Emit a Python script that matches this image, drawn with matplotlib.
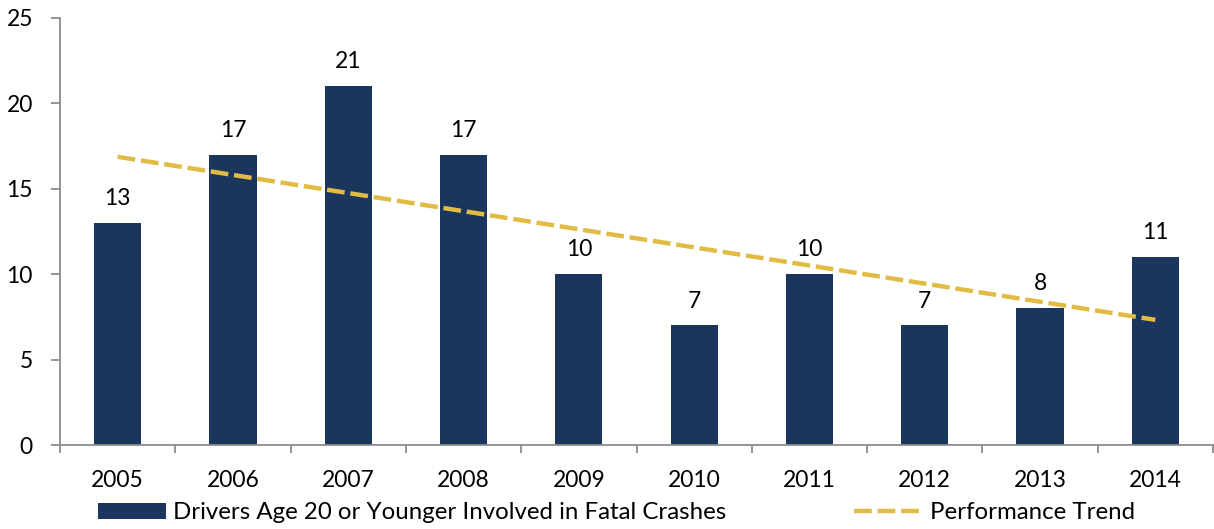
import matplotlib
matplotlib.use("Agg")
import matplotlib.pyplot as plt
import numpy as np
from matplotlib.lines import Line2D
from matplotlib.patches import Patch

plt.rcParams['font.family'] = ['Lato', 'DejaVu Sans']

years = ['2005', '2006', '2007', '2008', '2009', '2010', '2011', '2012', '2013', '2014']
drivers = [13, 17, 21, 17, 10, 7, 10, 7, 8, 11]

bar_color = '#1b365d'
trend_color = '#e0bc45'
axis_color = '#8c8c8c'

x = np.arange(len(years))

# linear trend through the yearly counts
slope, intercept = np.polyfit(x, drivers, 1)
trend = slope * x + intercept

fig = plt.figure(figsize=(12.14, 5.29), dpi=100)
ax = fig.add_axes([60 / 1214, 84 / 529, 1153 / 1214, (445 - 18) / 529])

ax.bar(x, drivers, width=0.41, color=bar_color, zorder=2)
ax.plot(x, trend, color=trend_color, lw=3.2, dashes=(4, 1.3), zorder=3)

for xi, v in zip(x, drivers):
    ax.annotate(str(v), (xi, v), xytext=(0, 10), textcoords='offset points',
                ha='center', va='bottom', fontsize=16.5, color='black')

ax.set_xlim(-0.5, len(years) - 0.5)
ax.set_ylim(0, 25)
ax.set_yticks(range(0, 26, 5))
ax.set_xticks(x)
ax.set_xticklabels(years)
ax.set_xticks(np.arange(-0.5, len(years), 1), minor=True)

for side in ['top', 'right']:
    ax.spines[side].set_visible(False)
for side in ['left', 'bottom']:
    ax.spines[side].set_color(axis_color)
    ax.spines[side].set_linewidth(1.3)

ax.tick_params(axis='y', length=6.5, width=1.3, color=axis_color, pad=13,
               labelsize=16.5)
ax.tick_params(axis='x', which='major', length=0, pad=18, labelsize=16.5)
ax.tick_params(axis='x', which='minor', length=6, width=1.3, color=axis_color)

handles = [Patch(facecolor=bar_color),
           Line2D([0], [0], color=trend_color, lw=3.2, dashes=(4, 1.3))]
labels = ['Drivers Age 20 or Younger Involved in Fatal Crashes', 'Performance Trend']
fig.legend(handles, labels, loc='lower left', bbox_to_anchor=(76 / 1214, -0.03),
           ncol=2, frameon=False, fontsize=17.3, handlelength=2.85,
           handleheight=0.68, handletextpad=0.3, columnspacing=5.3)

fig.savefig('out.png', dpi=100)
